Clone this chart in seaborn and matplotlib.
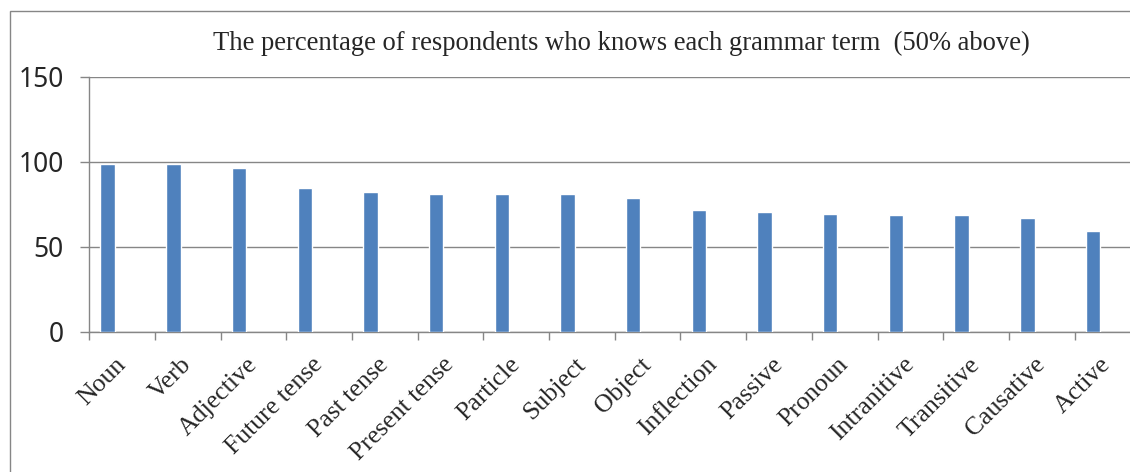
import matplotlib
matplotlib.use("Agg")
import matplotlib.pyplot as plt
from matplotlib.patches import Rectangle
from matplotlib.ticker import FixedLocator
import pandas as pd
import seaborn as sns

terms = ["Noun", "Verb", "Adjective", "Future tense", "Past tense", "Present tense",
         "Particle", "Subject", "Object", "Inflection", "Passive", "Pronoun",
         "Intranitive", "Transitive", "Causative", "Active"]
percent = [98.4, 98.4, 96.1, 84.8, 82.0, 80.9, 80.9, 80.9, 78.5, 71.9, 70.7,
           69.5, 68.4, 68.4, 67.0, 59.2]
y_ticks = [0, 50, 100, 150]
title = "The percentage of respondents who knows each grammar term  (50% above)"

# excel chart had 3 series slots, only the first one is filled
series_slots = ["known", "empty1", "empty2"]

df = pd.DataFrame({"term": terms, "percent": percent, "series": "known"})

sns.set_style("white")
grid_col = "#868686"
bar_col = "#4F81BD"

fig = plt.figure(figsize=(11.3, 4.72), dpi=100)
ax = fig.add_axes([89.3 / 1130, 140 / 472, 1051 / 1130, 255.5 / 472])

sns.barplot(data=df, x="term", y="percent", hue="series", hue_order=series_slots,
            palette=[bar_col] * 3, width=0.66, dodge=True, legend=False,
            saturation=1, ax=ax, zorder=3)

ax.set_xlim(-0.5, len(terms) - 0.5)
ax.set_ylim(0, 150)
ax.set_yticks(y_ticks)
ax.yaxis.grid(True, color=grid_col, lw=1.0, zorder=0)
ax.set_axisbelow(True)

for s in ["top", "right"]:
    ax.spines[s].set_visible(False)
for s in ["left", "bottom"]:
    ax.spines[s].set_color(grid_col)
    ax.spines[s].set_linewidth(1.0)

ax.set_xlabel("")
ax.set_ylabel("")

# tick marks between categories, labels at the centres
ax.xaxis.set_minor_locator(FixedLocator([i - 0.5 for i in range(len(terms) + 1)]))
ax.tick_params(axis="x", which="major", length=0, pad=21)
ax.tick_params(axis="x", which="minor", bottom=True, length=6, width=1.0, color=grid_col)
ax.tick_params(axis="y", left=True, length=6.5, width=1.0, color=grid_col, pad=12)

ax.set_xticks(range(len(terms)))
ax.set_xticklabels(terms, rotation=45, ha="right", va="center", rotation_mode="anchor",
                   family="Liberation Serif", fontsize=18.5)
for lab in ax.get_yticklabels():
    lab.set_family("Noto Sans")
    lab.set_fontsize(19)

fig.text(621 / 1130, 1 - 50 / 472, title, ha="center", va="baseline",
         family="Liberation Serif", fontsize=19.2)

# outer frame of the chart area (cut off at right/bottom)
fig.patches.append(Rectangle((10 / 1130, -0.1), 1.2, 1.1 - 11 / 472,
                             transform=fig.transFigure, fill=False,
                             edgecolor=grid_col, lw=1.0))

fig.savefig("out.png", dpi=100)
